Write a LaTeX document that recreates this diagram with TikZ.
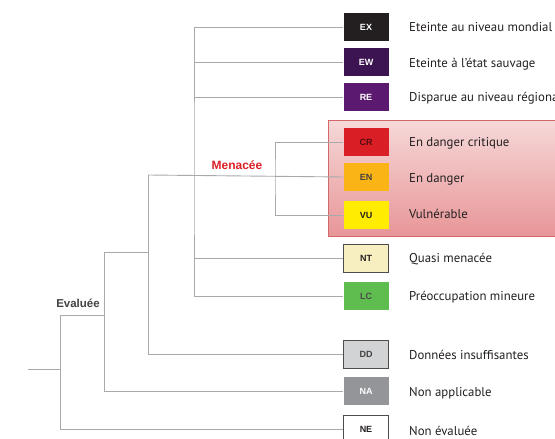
\documentclass[tikz,border=0pt]{standalone}
\usepackage{fontspec}
\setmainfont{PT Sans}
\newfontfamily\boxfont{Liberation Sans}
\usetikzlibrary{calc}
\definecolor{treegray}{HTML}{A7A9AC}
\definecolor{ink}{HTML}{231F20}
\definecolor{cEX}{HTML}{231F20}
\definecolor{cEW}{HTML}{3C1451}
\definecolor{cRE}{HTML}{5B1A6F}
\definecolor{cCR}{HTML}{D91E26}
\definecolor{cEN}{HTML}{FBB415}
\definecolor{cVU}{HTML}{FFEC00}
\definecolor{cNT}{HTML}{F8EFC0}
\definecolor{cLC}{HTML}{5EBD4E}
\definecolor{cDD}{HTML}{D1D3D4}
\definecolor{cNA}{HTML}{939598}
\definecolor{pinktop}{HTML}{F6D8D8}
\definecolor{pinkbot}{HTML}{E89698}
\definecolor{pinkedge}{HTML}{D2686A}
\definecolor{menred}{HTML}{DA1F26}
\tikzset{
  x=1pt, y=-1pt,
  tree/.style={draw=treegray, line width=0.9pt},
  cat/.style={minimum width=45pt, minimum height=28pt, inner sep=0pt,
    font=\boxfont\bfseries\fontsize{9}{10}\selectfont},
  desc/.style={anchor=west, inner sep=0pt, text=ink,
    font=\fontsize{12.8}{14}\selectfont},
  group/.style={font=\boxfont\bfseries\fontsize{12}{14}\selectfont}
}
\begin{document}
\begin{tikzpicture}
\useasboundingbox (0,0) rectangle (555,439);

% threatened band
\shade[top color=pinktop, bottom color=pinkbot] (328,120) rectangle (557,236);
\draw[pinkedge, line width=0.8pt] (557,120) -- (328,120) -- (328,236) -- (557,236);

% category boxes
\node[cat, fill=cEX, text=white] (EX) at (366,27) {EX};
\node[cat, fill=cEW, text=white] (EW) at (366,62) {EW};
\node[cat, fill=cRE, text=white] (RE) at (366,97) {RE};
\node[cat, fill=cCR, text=black!60!cCR] (CR) at (366,142) {CR};
\node[cat, fill=cEN, text=ink!85] (EN) at (366,177) {EN};
\node[cat, fill=cVU, text=ink] (VU) at (366,215) {VU};
\node[cat, fill=cNT, draw=ink!80, line width=0.8pt, text=ink] (NT) at (366,258) {NT};
\node[cat, fill=cLC, text=ink!80] (LC) at (366,296) {LC};
\node[cat, fill=cDD, draw=ink!80, line width=0.8pt, text=ink!85] (DD) at (366,354) {DD};
\node[cat, fill=cNA, text=white] (NA) at (366,391) {NA};
\node[cat, fill=white, draw=ink!80, line width=0.8pt, text=ink] (NE) at (366,429) {NE};

% descriptions
\node[desc] (dEX) at (409,27) {Eteinte au niveau mondial};
\node[desc] (dEW) at (409,64) {Eteinte à l'état sauvage};
\node[desc] (dRE) at (409,98) {Disparue au niveau régional};
\node[desc] (dCR) at (409,143) {En danger critique};
\node[desc] (dEN) at (409,179) {En danger};
\node[desc] (dVU) at (409,214) {Vulnérable};
\node[desc] (dNT) at (409,259) {Quasi menacée};
\node[desc] (dLC) at (409,297) {Préoccupation mineure};
\node[desc] (dDD) at (409,355) {Données insuffisantes};
\node[desc] (dNA) at (409,393) {Non applicable};
\node[desc] (dNE) at (409,431) {Non évaluée};

% tree junctions
\coordinate (r) at (28,369);
\coordinate (e) at (60,315);
\coordinate (b1) at (104,252);
\coordinate (b2) at (148,175);
\coordinate (m) at (194,175);
\coordinate (t) at (275,175);

% tree connectors
\draw[tree] (r) -- (r -| e);
\draw[tree] (e) |- (NE.west);
\draw[tree] (e) -- (e -| b1);
\draw[tree] (b1) |- (NA.west);
\draw[tree] (b1) -- (b1 -| b2);
\draw[tree] (b2) |- (DD.west);
\draw[tree] (b2) -- (EN.west);
\draw[tree] (EX.west) -| (m) |- (LC.west);
\draw[tree] (EW.west) -- (EW.west -| m);
\draw[tree] (RE.west) -- (RE.west -| m);
\draw[tree] (NT.west) -- (NT.west -| m);
\draw[tree] (CR.west) -| (t) |- (VU.west);

% group labels
\node[group, text=menred] (men) at (237,165) {Menacée};
\node[group, text=ink!85, font=\boxfont\bfseries\fontsize{11.5}{13}\selectfont] (eva) at (78,303) {Evaluée};
\end{tikzpicture}
\end{document}
